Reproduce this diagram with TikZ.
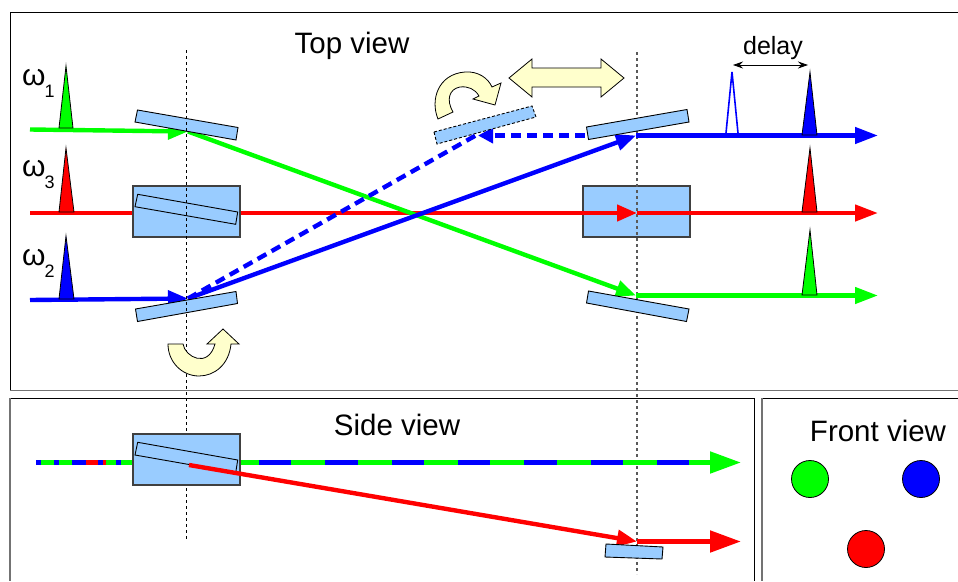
\documentclass[tikz,border=0pt]{standalone}
\usepackage{fontspec}
\setmainfont{Liberation Sans}
\usetikzlibrary{arrows.meta}
\definecolor{plate}{HTML}{99CCFF}
\definecolor{cream}{HTML}{FFFFCC}
\definecolor{fgreen}{HTML}{00FF00}
\newcommand{\omegalabel}[1]{ω\kern-1pt\raisebox{-12pt}{\fontsize{18}{20}\selectfont #1}}
\tikzset{
  frameline/.style={draw=black,line width=0.9pt},
  greyline/.style={draw=black!55,line width=1.8pt},
  axisline/.style={draw=black,line width=0.9pt,dash pattern=on 3pt off 3pt},
  axisgrey/.style={draw=black!65,line width=1.1pt,dash pattern=on 3pt off 3pt},
  plateshape/.style={draw=black,fill=plate,line width=0.9pt},
  boxshape/.style={draw=black!75,fill=plate,line width=1.2pt},
  tipped/.style={line width=4.4pt,-{Triangle[length=23pt,width=16pt]}},
  midtip/.style={line width=4.4pt,-{Triangle[length=20pt,width=16pt]}},
  dashline/.style={line width=4.4pt,dash pattern=on 10pt off 6pt},
  dashbeam/.style={line width=4.4pt,dash pattern=on 10pt off 6pt,-{Triangle[length=15pt,width=15pt]}},
  bigtip/.style={line width=5pt,-{Triangle[length=31pt,width=21pt]}},
  stripe/.style={line width=5pt},
  pulse/.style={draw=black,line width=0.8pt},
  uparrow/.style={draw=black,fill=cream,line width=0.8pt},
  title/.style={font=\fontsize{29.5}{32}\selectfont,inner sep=0pt},
  omega/.style={font=\fontsize{30}{32}\selectfont,inner sep=0pt,anchor=base west},
  dot/.style={circle,draw=black,line width=0.8pt,minimum size=37pt,inner sep=0pt}
}
\begin{document}
\begin{tikzpicture}[x=1pt,y=-1pt]
\useasboundingbox (0,0) rectangle (958,581);
% frames
\draw[frameline] (958,12) -- (10,12) -- (10,390);
\draw[greyline] (10,390.5) -- (958,390.5);
\draw[frameline] (10,398) -- (754,398) -- (754,581);
\draw[greyline,line width=1.4pt] (10,398) -- (10,581);
\draw[frameline] (958,398) -- (762,398);
\draw[greyline,line width=1.2pt] (762,398) -- (762,581);
% right box and right axis
\draw[boxshape] (583,186) rectangle (690,237);
\coordinate (a1t) at (186.5,50); \coordinate (a1b) at (186.5,540);
\coordinate (a2t) at (637,52); \coordinate (a2b) at (637,574);
\draw[axisgrey] (a2t) -- (a2b);
% coordinates of beams
\coordinate (r0) at (30,213); \coordinate (r1) at (637,213); \coordinate (r2) at (878,213);
\coordinate (g0) at (30,129.5); \coordinate (g1) at (188,131.5); \coordinate (g2) at (636,295.5); \coordinate (g3) at (878,295.5);
\coordinate (b0) at (30,300); \coordinate (b1) at (188,298.5); \coordinate (b2) at (636,135.5); \coordinate (b3) at (878,135.5);
\coordinate (d1) at (478,135.5); \coordinate (d2) at (585,135.5); \coordinate (d3) at (480,133);
\coordinate (sr0) at (189,465); \coordinate (sr1) at (637,541.5); \coordinate (sr2) at (741,541.5);
\coordinate (sv1) at (741,462.5);
% top-view beams
\draw[tipped,red] (r1) -- (r2);
\draw[midtip,red] (r0) -- (r1);
\draw[midtip,fgreen] (g0) -- (g1);
\draw[midtip,fgreen] (g1) -- (g2);
\draw[tipped,fgreen] (g2) -- (g3);
\draw[dashline,blue] (b1) -- (d3);
\draw[dashbeam,blue] (d2) -- (d1);
\draw[midtip,blue] (b0) -- (b1);
\draw[midtip,blue] (b1) -- (b2);
\draw[tipped,blue] (b2) -- (b3);
% left box and plates
\draw[boxshape] (133,186) rectangle (240,237);
\draw[plateshape] (137.5,110) -- (238,127.5) -- (236,140) -- (135,122) -- cycle;
\draw[plateshape] (137.7,194.3) -- (237.7,212) -- (235.7,224.3) -- (135,206.7) -- cycle;
\draw[plateshape] (135.5,309) -- (236,291.5) -- (237.5,303.5) -- (137.5,321.5) -- cycle;
\draw[plateshape,dash pattern=on 3pt off 2pt] (434,132) -- (532,106) -- (536,117) -- (437,144) -- cycle;
\draw[plateshape] (586.5,127) -- (687,109.5) -- (689,122) -- (588.5,139.5) -- cycle;
\draw[plateshape] (588.5,291) -- (689,309) -- (686.5,321.5) -- (586.5,303) -- cycle;
% left axis over the plates
\draw[axisline] (a1t) -- (a1b);
% curved and double arrows
\draw[uparrow] (438,119) .. controls (430,100) and (438,74) .. (465,72)
  .. controls (478,71) and (488,78) .. (492,87) -- (501,83) -- (495,105) -- (473,99) -- (479,96)
  .. controls (475,89) and (468,86) .. (460,87) .. controls (449,89) and (446,100) .. (453,112) -- cycle;
\draw[uparrow] (168,344) -- (183,344) .. controls (185,357) and (208,369) .. (215,344) -- (207,344) -- (223,329) -- (239,344) -- (231,344)
 .. controls (229,365) and (214,376) .. (199,376) .. controls (182,376) and (168,362) .. (168,344) -- cycle;
\draw[uparrow] (509,78) -- (532,59) -- (532,68) -- (601,68) -- (601,59) -- (624,78) -- (601,97) -- (601,87) -- (532,87) -- (532,97) -- cycle;
% pulses
\draw[pulse,fill=fgreen] (59,128) -- (66,66) -- (73,128) -- cycle;
\draw[pulse,fill=red] (59,212) -- (66,148) -- (74,212) -- cycle;
\draw[pulse,fill=blue] (59,299) -- (66,236) -- (74,299) -- cycle;
\draw[pulse,fill=blue] (802,135) -- (810,72) -- (817,135) -- cycle;
\draw[pulse,fill=red] (802,212) -- (810,148) -- (817,212) -- cycle;
\draw[pulse,fill=fgreen] (802,295) -- (810,230) -- (817,295) -- cycle;
\draw[blue,line width=1.6pt] (726,133) -- (732,72) -- (738,133);
% delay
\coordinate (dl) at (733,65); \coordinate (dr) at (808,65);
\draw[black,line width=0.8pt,{Stealth[length=10pt,width=7pt]}-{Stealth[length=10pt,width=7pt]}] (dl) -- (dr);
\node[font=\fontsize{25}{27}\selectfont,inner sep=0pt] (delaylabel) at (773,48) {delay};
% labels
\node[title] (topt) at (352,46) {Top view};
\node[title] (sidet) at (397,425) {Side view};
\node[title] (frontt) at (878,431) {Front view};
\node[omega] (w1) at (22,85) {\omegalabel{1}};
\node[omega] (w3) at (22,176) {\omegalabel{3}};
\node[omega] (w2) at (22,265) {\omegalabel{2}};
% side view
\draw[stripe,fgreen] (36,462.5) -- (133,462.5);
\foreach \a/\b in {36/41,54/59,72/86,98/103,116/121}{\draw[stripe,blue] (\a,462.5) -- (\b,462.5);}
\draw[stripe,red] (86,462.5) -- (98,462.5);
\draw[stripe,red] (103,462.5) -- (106,462.5);
\draw[stripe,fgreen] (240,462.5) -- (712,462.5);
\foreach \a/\b in {259/291,325/358,392/424,458/490,524/557,591/623,657/689}{\draw[stripe,blue] (\a,462.5) -- (\b,462.5);}
\draw[bigtip,fgreen] (700,462.5) -- (sv1);
\draw[boxshape] (133,434) rectangle (240,485);
\draw[plateshape] (137.7,442.3) -- (237.7,460) -- (235.7,472.7) -- (135,455) -- cycle;
\draw[midtip,red] (sr0) -- (sr1);
\draw[bigtip,red] (sr1) -- (sr2);
\draw[plateshape] (606,544) -- (663,547) -- (662,559) -- (605,557) -- cycle;
% front dots
\node[dot,fill=fgreen] (cg) at (810,479) {};
\node[dot,fill=blue] (cb) at (921,479) {};
\node[dot,fill=red] (cr) at (866,549) {};
\end{tikzpicture}
\end{document}
